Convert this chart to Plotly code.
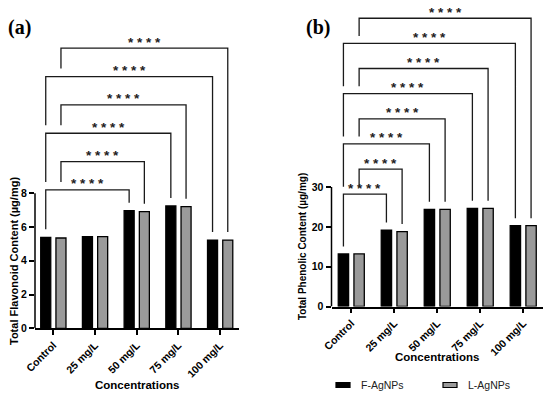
import plotly.graph_objects as go

# ---------------- data ----------------
categories = ["Control", "25 mg/L", "50 mg/L", "75 mg/L", "100 mg/L"]
series_names = ["F-AgNPs", "L-AgNPs"]

flavonoid_f = [5.39, 5.43, 6.97, 7.25, 5.23]
flavonoid_l = [5.35, 5.43, 6.91, 7.21, 5.23]
phenolic_f = [13.2, 19.2, 24.4, 24.65, 20.3]
phenolic_l = [13.2, 18.8, 24.4, 24.65, 20.3]

flavonoid_ticks = [0, 2, 4, 6, 8]
phenolic_ticks = [0, 10, 20, 30]

# comparisons vs Control of the same series: (series index, category index)
flavonoid_comparisons = [(0, 2), (1, 2), (0, 3), (1, 3), (0, 4), (1, 4)]
phenolic_comparisons = [(0, 1), (1, 1), (0, 2), (1, 2), (0, 3), (1, 3), (0, 4), (1, 4)]
sig_label = "****"

flavonoid_title = "Total Flavonoid Content (µg/mg)"
phenolic_title = "Total Phenolic Content (µg/mg)"
x_title = "Concentrations"

# ---------------- layout helpers ----------------
W, H = 550, 395
BARGAP, BARGROUPGAP = 0.27, 0.34
HALF = (1 - BARGAP) / 4  # offset of each bar centre from category centre
F_COLOR, L_COLOR = "#000000", "#9a9a9a"
LINE = "#1a1a1a"


def px_x(p):
    return p / W


def px_y(p):
    return 1 - p / H


panels = [
    dict(ax="", vals=[flavonoid_f, flavonoid_l], ticks=flavonoid_ticks,
         comps=flavonoid_comparisons, xpx=(35, 238.5), y0px=328.3, ytoppx=20,
         scale=16.875, xrange=(-0.44, 4.44), base=8.2, step=1.68, gappx=8,
         ytitle=flavonoid_title, ytitle_pos=(14, 261), ytitle_size=11,
         xtitle_pos=(137, 385), label="(a)", label_pos=(6, 27)),
    dict(ax="2", vals=[phenolic_f, phenolic_l], ticks=phenolic_ticks,
         comps=phenolic_comparisons, xpx=(331.5, 543), y0px=306.5, ytoppx=0,
         scale=3.983, xrange=(-0.46, 4.46), base=28.2, step=6.31, gappx=7.5,
         ytitle=phenolic_title, ytitle_pos=(302, 247), ytitle_size=10,
         xtitle_pos=(437, 357), label="(b)", label_pos=(304, 27)),
]

fig = go.Figure()
shapes = []
annotations = []
xs = list(range(len(categories)))

for p in panels:
    ax = p["ax"]
    xref, yref = "x" + ax, "y" + ax
    colors = [F_COLOR, L_COLOR]
    for s, name in enumerate(series_names):
        fig.add_trace(go.Bar(
            x=xs, y=p["vals"][s], name=name, xaxis=xref, yaxis=yref,
            marker=dict(color=colors[s], line=dict(color="black", width=1.3)),
            showlegend=False, hoverinfo="skip"))

    ytop = (p["y0px"] - p["ytoppx"]) / p["scale"]
    axis_font = dict(family="Liberation Sans, Arial", size=10.5, color="black", weight="bold")
    fig.update_layout({
        "xaxis" + ax: dict(domain=[px_x(p["xpx"][0]), px_x(p["xpx"][1])],
                           range=list(p["xrange"]), anchor=yref,
                           tickvals=xs, ticktext=categories, tickangle=-45,
                           ticks="outside", ticklen=5, tickwidth=1.5, tickcolor="black",
                           showline=True, linewidth=1.5, linecolor="black",
                           showgrid=False, zeroline=False, tickfont=axis_font,
                           automargin=False, fixedrange=True),
        "yaxis" + ax: dict(domain=[px_y(p["y0px"]), px_y(p["ytoppx"])],
                           range=[0, ytop], anchor=xref,
                           tickvals=p["ticks"], ticks="outside", ticklen=5,
                           tickwidth=1.5, tickcolor="black", showline=False,
                           showgrid=False, zeroline=False, tickfont=axis_font,
                           automargin=False, fixedrange=True),
    })
    # y axis line only up to the last tick
    shapes.append(dict(type="line", xref=xref + " domain", yref=yref,
                       x0=0, x1=0, y0=0, y1=p["ticks"][-1],
                       line=dict(color="black", width=1.5)))

    # significance brackets
    gap = p["gappx"] / p["scale"]
    placed = []
    for k, (s, c) in enumerate(p["comps"]):
        level = p["base"] + p["step"] * k
        off = -HALF if s == 0 else HALF
        xl, xr = 0 + off, c + off

        def leg_end(x, bar_val):
            cover = [lv for (a, b, lv) in placed if a - 1e-6 <= x <= b + 1e-6]
            return (max(cover) if cover else bar_val) + gap

        yl = leg_end(xl, p["vals"][s][0])
        yr = leg_end(xr, p["vals"][s][c])
        placed.append((xl, xr, level))
        shapes.append(dict(type="path", xref=xref, yref=yref,
                           path=f"M{xl},{yl} L{xl},{level} L{xr},{level} L{xr},{yr}",
                           line=dict(color=LINE, width=1.3)))
        annotations.append(dict(x=(xl + xr) / 2, y=level, xref=xref, yref=yref,
                                text=" ".join(sig_label), showarrow=False,
                                yanchor="middle", yshift=6,
                                font=dict(family="Liberation Sans, Arial", size=13.5,
                                          color="#222", weight="bold")))

    # axis titles
    annotations.append(dict(x=px_x(p["ytitle_pos"][0]), y=px_y(p["ytitle_pos"][1]),
                            xref="paper", yref="paper", text=p["ytitle"], textangle=-90,
                            showarrow=False, xanchor="center", yanchor="middle",
                            font=dict(family="Liberation Sans, Arial", size=p["ytitle_size"],
                                      color="black", weight="bold")))
    annotations.append(dict(x=px_x(p["xtitle_pos"][0]), y=px_y(p["xtitle_pos"][1]),
                            xref="paper", yref="paper", text=x_title,
                            showarrow=False, xanchor="center", yanchor="middle",
                            font=dict(family="Liberation Sans, Arial", size=11.5,
                                      color="black", weight="bold")))
    annotations.append(dict(x=px_x(p["label_pos"][0]), y=px_y(p["label_pos"][1]),
                            xref="paper", yref="paper", text=p["label"],
                            showarrow=False, xanchor="left", yanchor="middle",
                            font=dict(family="Liberation Serif, serif", size=20,
                                      color="black", weight="bold")))

# manual legend
legend_items = [(336, 359, F_COLOR), (443, 466, L_COLOR)]
for (bx, tx, col), name in zip(legend_items, series_names):
    shapes.append(dict(type="rect", xref="paper", yref="paper",
                       x0=px_x(bx), x1=px_x(bx + 14), y0=px_y(387.5), y1=px_y(382.5),
                       fillcolor=col, line=dict(color="black", width=1.2)))
    annotations.append(dict(x=px_x(tx), y=px_y(385), xref="paper", yref="paper",
                            text=name, showarrow=False, xanchor="left", yanchor="middle",
                            font=dict(family="Liberation Sans, Arial", size=10.5, color="#222")))

fig.update_layout(width=W, height=H, margin=dict(l=0, r=0, t=0, b=0),
                  plot_bgcolor="white", paper_bgcolor="white",
                  barmode="group", bargap=BARGAP, bargroupgap=BARGROUPGAP,
                  showlegend=False, shapes=shapes, annotations=annotations,
                  font=dict(family="Liberation Sans, Arial", color="black"))

fig.write_html("out.html", config={"displayModeBar": False},
               post_script="document.body.style.margin='0px';"
                           "document.body.style.overflow='hidden';")
